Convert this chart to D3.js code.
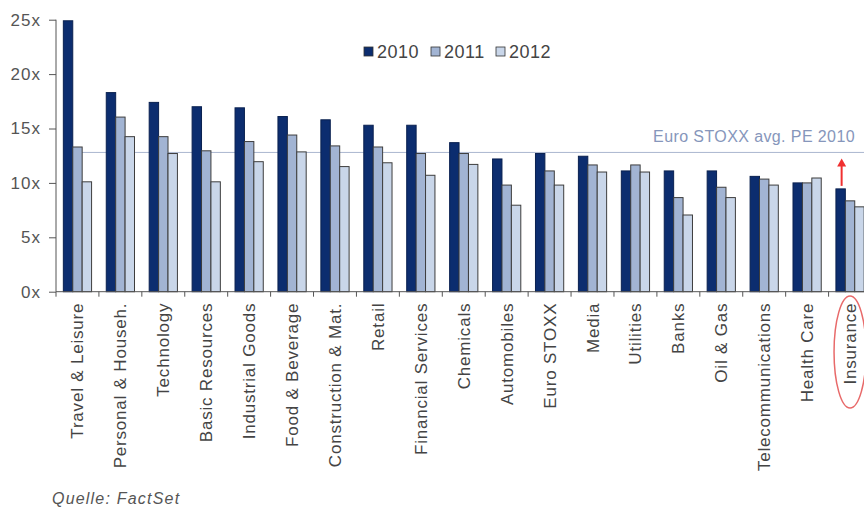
<!DOCTYPE html>
<html>
<head>
<meta charset="utf-8">
<script src="https://cdn.jsdelivr.net/npm/d3@7"></script>
<style>
  body { margin: 0; background: #fff; }
  svg { display: block; font-family: "Liberation Sans", Arial, sans-serif; }
  .axis path, .axis line { stroke: #555; }
</style>
</head>
<body>
<svg id="chart" width="864" height="508"></svg>
<script>
// sectors, sorted by 2010 PE
var sectors = ["Travel & Leisure", "Personal & Househ.", "Technology", "Basic Resources",
  "Industrial Goods", "Food & Beverage", "Construction & Mat.", "Retail", "Financial Services",
  "Chemicals", "Automobiles", "Euro STOXX", "Media", "Utilities", "Banks", "Oil & Gas",
  "Telecommunications", "Health Care", "Insurance"];
var years = ["2010", "2011", "2012"];
var pe2010 = [24.9, 18.3, 17.4, 17.0, 16.9, 16.1, 15.8, 15.3, 15.3, 13.7, 12.2, 12.7, 12.45, 11.1, 11.1, 11.1, 10.6, 10.0, 9.45];
var pe2011 = [13.3, 16.05, 14.25, 12.95, 13.8, 14.4, 13.4, 13.3, 12.7, 12.7, 9.8, 11.1, 11.65, 11.65, 8.65, 9.6, 10.35, 10.0, 8.35];
var pe2012 = [10.1, 14.25, 12.7, 10.1, 11.95, 12.85, 11.5, 11.85, 10.7, 11.7, 7.95, 9.8, 11.0, 11.0, 7.05, 8.65, 9.8, 10.45, 7.8];
var yTicks = [0, 5, 10, 15, 20, 25];
var avgPE = 12.8;
var avgLabel = "Euro STOXX avg. PE 2010";
var source = "Quelle: FactSet";

var colors = { "2010": "#0c2d6f", "2011": "#a2b4d3", "2012": "#c9d6e9" };

var rows = sectors.map(function(s, i) {
  return { name: s, values: [pe2010[i], pe2011[i], pe2012[i]] };
});

var svg = d3.select("#chart");

var x0 = d3.scaleBand().domain(sectors).range([56, 871.5]).padding(0);
var x1 = d3.scaleBand().domain(years).range([0, x0.bandwidth()]).paddingInner(0).paddingOuter(0.78);
var y = d3.scaleLinear().domain([0, 25]).range([291.7, 19.7]);

// average line
svg.append("line")
  .attr("x1", 66).attr("x2", 864)
  .attr("y1", y(avgPE)).attr("y2", y(avgPE))
  .attr("stroke", "#aab6cf").attr("stroke-width", 1);

// bars
var groups = svg.selectAll(".grp").data(rows).enter()
  .append("g").attr("class", "grp")
  .attr("transform", function(d) { return "translate(" + x0(d.name) + ",0)"; });

groups.selectAll("rect")
  .data(function(d) { return d.values.map(function(v, k) { return { year: years[k], v: v }; }); })
  .enter().append("rect")
  .attr("x", function(d) { return x1(d.year); })
  .attr("y", function(d) { return y(d.v); })
  .attr("width", x1.bandwidth())
  .attr("height", function(d) { return y(0) - y(d.v); })
  .attr("fill", function(d) { return colors[d.year]; })
  .attr("stroke", function(d) { return d.year == "2010" ? "#0a2150" : "#3d3d3d"; })
  .attr("stroke-width", 1);

// y axis
var yAxis = d3.axisLeft(y).tickValues(yTicks).tickSize(7).tickPadding(8)
  .tickFormat(function(d) { return d + "x"; });
var ga = svg.append("g").attr("class", "axis").attr("transform", "translate(56,0)").call(yAxis);
ga.select(".domain").attr("d", "M0," + y(25) + "V" + y(0));
ga.selectAll("text").attr("font-size", 17).attr("fill", "#555").attr("letter-spacing", 1)
  .attr("font-family", "Liberation Sans, Arial, sans-serif");

// x axis baseline + category ticks at boundaries
svg.append("line").attr("x1", 56).attr("x2", 864).attr("y1", y(0)).attr("y2", y(0))
  .attr("stroke", "#555");
svg.selectAll(".ctick").data(sectors).enter().append("line")
  .attr("x1", function(d) { return x0(d); }).attr("x2", function(d) { return x0(d); })
  .attr("y1", y(0)).attr("y2", y(0) + 5).attr("stroke", "#555");

// category labels
svg.selectAll(".clabel").data(sectors).enter().append("text")
  .attr("transform", function(d) {
    return "translate(" + (x0(d) + x0.bandwidth() / 2 + 6) + "," + (y(0) + 11) + ") rotate(-90)";
  })
  .attr("text-anchor", "end")
  .attr("font-size", 17).attr("letter-spacing", 0.8)
  .attr("fill", "#444")
  .text(function(d) { return d; });

// legend
var lg = svg.append("g").attr("transform", "translate(364,46)");
var lgX = [0, 67, 132];
years.forEach(function(yr, i) {
  lg.append("rect").attr("x", lgX[i]).attr("y", 1).attr("width", 9).attr("height", 9)
    .attr("fill", colors[yr]).attr("stroke", "#333").attr("stroke-width", 0.8);
  lg.append("text").attr("x", lgX[i] + 13).attr("y", 12)
    .attr("font-size", 18).attr("fill", "#444").attr("letter-spacing", 0.5).text(yr);
});

// average label
svg.append("text").attr("x", 855).attr("y", y(avgPE) - 10)
  .attr("text-anchor", "end").attr("font-size", 16).attr("letter-spacing", 0.4)
  .attr("fill", "#8696bb").text(avgLabel);

// red arrow from Insurance 2010 up to avg line
var ins = sectors[sectors.length - 1];
var ax = x0(ins) + x1("2010") + x1.bandwidth() / 2 + 1;
svg.append("line").attr("x1", ax).attr("x2", ax)
  .attr("y1", y(pe2010[pe2010.length - 1]) - 3).attr("y2", y(avgPE) + 12)
  .attr("stroke", "#f03030").attr("stroke-width", 2);
svg.append("path")
  .attr("d", "M" + (ax - 4.5) + "," + (y(avgPE) + 14) + "L" + ax + "," + (y(avgPE) + 6) + "L" + (ax + 4.5) + "," + (y(avgPE) + 14) + "Z")
  .attr("fill", "#f03030");

// red ellipse around Insurance label
svg.append("ellipse")
  .attr("cx", x0(ins) + x0.bandwidth() / 2).attr("cy", 352)
  .attr("rx", 16).attr("ry", 56)
  .attr("fill", "none").attr("stroke", "#e86a6a").attr("stroke-width", 1.5);

// source
svg.append("text").attr("x", 52).attr("y", 504)
  .attr("font-size", 16).attr("font-style", "italic").attr("letter-spacing", 1.2)
  .attr("fill", "#555").text(source);
</script>
</body>
</html>
